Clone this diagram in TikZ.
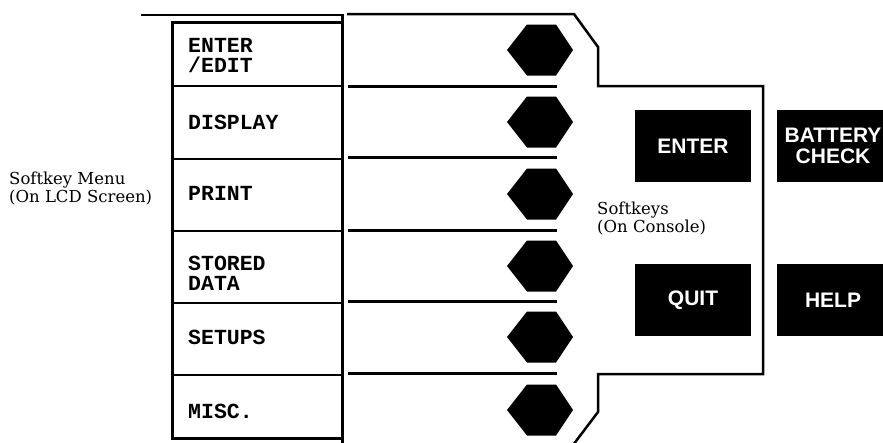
\documentclass[tikz,border=0pt]{standalone}
\usepackage{fontspec}
\newfontfamily\menufont{Liberation Mono}
\newfontfamily\btnfont{Liberation Sans}
\newfontfamily\labfont{DejaVu Serif}
\begin{document}
\begin{tikzpicture}[x=1pt,y=-1pt,
  menutext/.style={anchor=base west, inner sep=0pt, align=left, font=\menufont\bfseries\fontsize{21.5}{20}\selectfont},
  btn/.style={fill=black, text=white, inner sep=0pt, minimum height=72pt, align=center, font=\btnfont\bfseries\fontsize{21}{21.5}\selectfont},
  lab/.style={anchor=base west, inner sep=0pt, align=left, font=\labfont\fontsize{16.5}{18}\selectfont},
  boxline/.style={line width=3pt},
  divline/.style={line width=2pt},
  keyline/.style={line width=3pt},
  outline/.style={line width=2.5pt, line join=miter}]
\useasboundingbox (0,0) rectangle (883,442);
\clip (0,0) rectangle (883,442);
% menu box
\draw[boxline] (172,22) rectangle (342,438);
\draw[divline] (141,15) -- (342,15);
\draw[boxline] (342,13.5) -- (342,445);
\foreach \y in {86,159,231,303,375} \draw[divline] (172,\y) -- (342,\y);
% key separators
\foreach \y in {86,157,230,301,373} \draw[keyline] (348,\y) -- (557,\y);
% console outline
\draw[outline] (347,14) -- (574,14) -- (598,47) -- (598,86) -- (763,86) -- (763,374) -- (598,374) -- (598,412) -- (570,449);
% softkeys
\foreach \c in {50,122,194,266,337,410}
  \fill (507,\c) -- (527,{\c-25.5}) -- (556,{\c-25.5}) -- (573,\c) -- (556,{\c+25.5}) -- (527,{\c+25.5}) -- cycle;
% menu texts
\node[menutext] (m1) at (188,72) {ENTER\\/EDIT};
\node[menutext] (m2) at (188,129) {DISPLAY};
\node[menutext] (m3) at (188,200) {PRINT};
\node[menutext] (m4) at (188,290) {STORED\\DATA};
\node[menutext] (m5) at (188,344) {SETUPS};
\node[menutext] (m6) at (188,418) {MISC.};
% buttons
\node[btn, minimum width=116pt] (enter) at (693,146) {ENTER};
\node[btn, minimum width=112pt] (battery) at (833,146) {BATTERY\\CHECK};
\node[btn, minimum width=116pt] (quit) at (693,300) {QUIT};
\node[btn, minimum width=112pt] (help) at (833,300) {HELP};
% labels
\node[lab] (menulab) at (9,202) {Softkey Menu\\(On LCD Screen)};
\node[lab] (keylab) at (597,232) {Softkeys\\(On Console)};
\end{tikzpicture}
\end{document}
